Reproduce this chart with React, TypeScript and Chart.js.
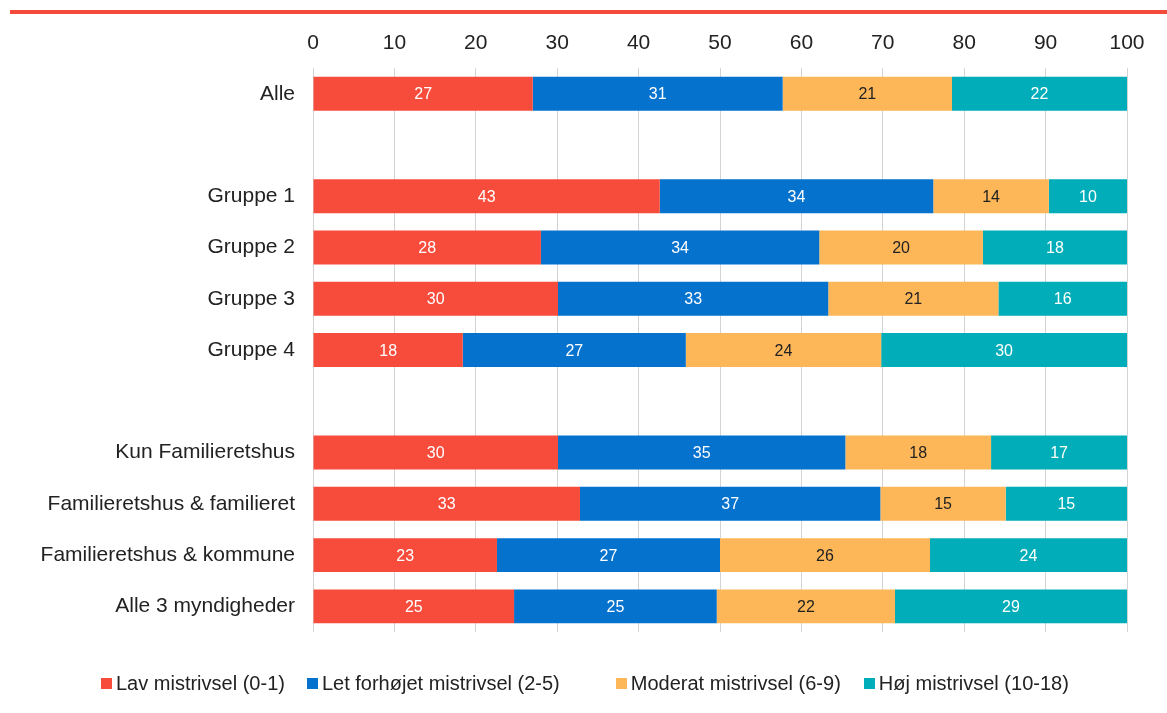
import React, { useEffect, useRef } from "react";
import { Chart, registerables } from "chart.js";

Chart.register(...registerables);

const categories = [
  "Alle",
  "",
  "Gruppe 1",
  "Gruppe 2",
  "Gruppe 3",
  "Gruppe 4",
  "",
  "Kun Familieretshus",
  "Familieretshus & familieret",
  "Familieretshus & kommune",
  "Alle 3 myndigheder",
];

const seriesNames = [
  "Lav mistrivsel (0-1)",
  "Let forhøjet mistrivsel (2-5)",
  "Moderat mistrivsel (6-9)",
  "Høj mistrivsel (10-18)",
];

const lav = [27.0, null, 42.6, 28.0, 30.1, 18.4, null, 30.1, 32.8, 22.6, 24.7];
const letForhoejet = [30.7, null, 33.6, 34.2, 33.2, 27.4, null, 35.3, 36.9, 27.4, 24.9];
const moderat = [20.8, null, 14.2, 20.1, 20.9, 24.0, null, 17.9, 15.4, 25.8, 21.9];
const hoej = [21.5, null, 9.6, 17.7, 15.8, 30.2, null, 16.7, 14.9, 24.2, 28.5];

const xTicks = [0, 10, 20, 30, 40, 50, 60, 70, 80, 90, 100];

const colors = ["#F74C3C", "#0572CE", "#FDB758", "#00ADB8"];
const labelColors = ["#ffffff", "#ffffff", "#222222", "#ffffff"];

const FONT = "'Liberation Sans', Arial, sans-serif";

const topLinePlugin = {
  id: "topLine",
  beforeDraw(chart: any) {
    const ctx = chart.ctx;
    ctx.save();
    ctx.fillStyle = "#F44A3A";
    ctx.fillRect(10, 10, chart.width - 10, 4);
    ctx.restore();
  },
};

const dataLabelPlugin = {
  id: "segLabels",
  afterDatasetsDraw(chart: any) {
    const ctx = chart.ctx;
    ctx.save();
    ctx.font = `16px ${FONT}`;
    ctx.textAlign = "center";
    ctx.textBaseline = "middle";
    chart.data.datasets.forEach((ds: any, di: number) => {
      const meta = chart.getDatasetMeta(di);
      meta.data.forEach((el: any, i: number) => {
        const v = ds.data[i];
        if (v === null || v === undefined) return;
        const { x, y, base } = el.getProps(["x", "y", "base"], true);
        ctx.fillStyle = labelColors[di];
        ctx.fillText(String(Math.round(v)), (x + base) / 2, y + 1);
      });
    });
    ctx.restore();
  },
};

export default function App() {
  const ref = useRef<HTMLCanvasElement | null>(null);

  useEffect(() => {
    if (!ref.current) return;
    const data = [lav, letForhoejet, moderat, hoej];
    const chart = new Chart(ref.current, {
      type: "bar",
      data: {
        labels: categories,
        datasets: seriesNames.map((name, i) => ({
          label: name,
          data: data[i],
          backgroundColor: colors[i],
          borderWidth: 0,
          categoryPercentage: 1,
          barPercentage: 0.663,
        })),
      },
      options: {
        indexAxis: "y",
        responsive: false,
        animation: false,
        devicePixelRatio: 1,
        layout: { padding: { top: 19, right: 40, bottom: 81, left: 0 } },
        plugins: {
          legend: { display: false },
          tooltip: { enabled: false },
        },
        scales: {
          x: {
            position: "top",
            stacked: true,
            min: 0,
            max: 100,
            afterBuildTicks: (scale: any) => {
              scale.ticks = xTicks.map((v) => ({ value: v }));
            },
            ticks: {
              color: "#222222",
              font: { family: FONT, size: 21 },
              padding: 12,
            },
            grid: { color: "#D3D3D3", lineWidth: 1, drawTicks: false },
            border: { display: false },
          },
          y: {
            stacked: true,
            afterFit: (scale: any) => {
              scale.width = 313;
            },
            ticks: {
              color: "#222222",
              font: { family: FONT, size: 21 },
              padding: 18,
            },
            grid: { display: false, drawTicks: false },
            border: { display: false },
          },
        },
      } as any,
      plugins: [topLinePlugin, dataLabelPlugin],
    });
    return () => chart.destroy();
  }, []);

  const legendGaps = [0, 22, 56, 23];

  return (
    <div style={{ position: "absolute", left: 0, top: 0, width: 1167, height: 713, background: "#fff" }}>
      <canvas ref={ref} width={1167} height={713} style={{ display: "block", width: 1167, height: 713 }} />
      <div
        style={{
          position: "absolute",
          left: 101,
          top: 672,
          display: "flex",
          alignItems: "center",
          fontFamily: FONT,
          fontSize: 20,
          lineHeight: "22px",
          color: "#222222",
          whiteSpace: "nowrap",
        }}
      >
        {seriesNames.map((name, i) => (
          <div key={name} style={{ display: "flex", alignItems: "center", marginLeft: legendGaps[i] }}>
            <span style={{ display: "inline-block", width: 11, height: 11, background: colors[i], marginRight: 4 }} />
            <span>{name}</span>
          </div>
        ))}
      </div>
    </div>
  );
}
